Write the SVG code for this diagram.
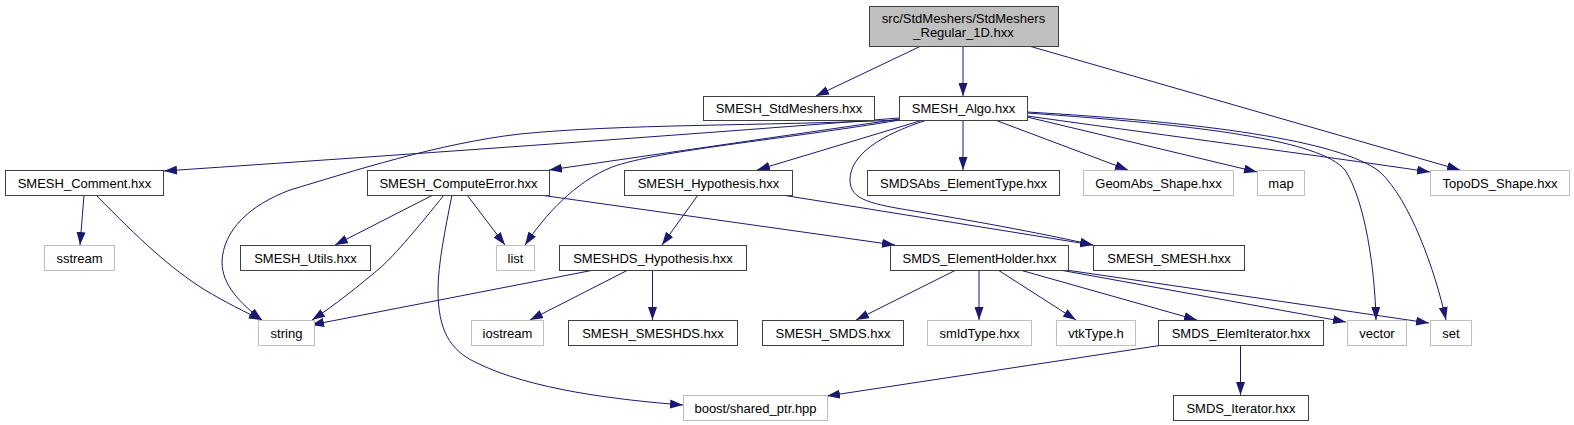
<svg xmlns="http://www.w3.org/2000/svg" width="1574" height="425" viewBox="0 0 1574 425">
<style>
.n rect{fill:#fff;stroke:#404040;stroke-width:1}
.g rect{fill:#fff;stroke:#bfbfbf;stroke-width:1}
.r rect{fill:#bfbfbf;stroke:#404040;stroke-width:1}
text{font-family:"Liberation Sans",Arial,sans-serif;font-size:13px;fill:#000;text-anchor:middle}
.e path{fill:none;stroke:#191970;stroke-width:1;marker-end:url(#ah)}
</style>
<defs>
<marker id="ah" markerWidth="13" markerHeight="9" refX="13" refY="4.5" orient="auto" markerUnits="userSpaceOnUse">
<path d="M0,0 L13,4.5 L0,9 z" fill="#191970" stroke="none"/>
</marker>
</defs>
<rect width="1574" height="425" fill="#fff"/>
<g id="edges" class="e">
<path d="M921,46 L816,96"/>
<path d="M963,46 L963,96"/>
<path d="M1029,46 L1460,170"/>
<path d="M899,118 Q620,140 164,171"/>
<path d="M900,120 C760,126 620,124 520,134 C440,143 350,172 290,190 C250,205 223,230 222,262 C222,285 240,303 262,320"/>
<path d="M900,119 L549,170"/>
<path d="M900,120 C780,140 660,150 612,167 C575,182 545,215 525,245"/>
<path d="M923,120 L757,170"/>
<path d="M927,120 C880,135 850,155 850,180 C850,200 870,204 920,212 C980,222 1050,235 1093,245"/>
<path d="M963,120 L963,170"/>
<path d="M995,120 L1128,170"/>
<path d="M1027,117 L1257,172"/>
<path d="M1027,116 C1200,140 1350,160 1430,172"/>
<path d="M1027,113 C1200,125 1320,140 1345,170 C1365,200 1375,270 1376,320"/>
<path d="M1027,112 C1200,122 1340,140 1380,172 C1410,200 1435,270 1446,320"/>
<path d="M84,195 L80,245"/>
<path d="M96,195 C140,240 170,268 205,290 C225,302 245,312 262,320"/>
<path d="M433,195 L335,245"/>
<path d="M444,195 C420,225 395,255 380,268 C360,285 335,305 312,320"/>
<path d="M452,195 C445,230 438,265 438,290 C438,330 450,350 475,362 C530,390 620,400 683,405"/>
<path d="M467,195 L505,245"/>
<path d="M540,195 L895,245"/>
<path d="M698,195 L662,245"/>
<path d="M782,195 L1093,245"/>
<path d="M594,270 L311,325"/>
<path d="M628,270 L530,320"/>
<path d="M652.5,270 L652.5,320"/>
<path d="M956,270 L856,320"/>
<path d="M979,270 L979,320"/>
<path d="M998,270 L1076,320"/>
<path d="M1020,270 L1197,320"/>
<path d="M1060,270 L1346,322"/>
<path d="M1066,270 L1429,323"/>
<path d="M1163,345 L827,396"/>
<path d="M1240.5,345 L1240.5,395"/>
</g>
<g id="root" class="r"><rect x="869.5" y="6.5" width="189" height="40"/><text x="963.5" y="22.5">src/StdMeshers/StdMeshers</text><text x="963.5" y="37">_Regular_1D.hxx</text></g>
<g id="std" class="n"><rect x="703.5" y="96.5" width="171" height="24"/><text x="789" y="113">SMESH_StdMeshers.hxx</text></g>
<g id="algo" class="n"><rect x="899.5" y="96.5" width="128" height="24"/><text x="963.5" y="113">SMESH_Algo.hxx</text></g>
<g id="comment" class="n"><rect x="5.5" y="170.5" width="158" height="25"/><text x="84.5" y="187.5">SMESH_Comment.hxx</text></g>
<g id="computeerror" class="n"><rect x="367.5" y="170.5" width="182" height="25"/><text x="458.5" y="187.5">SMESH_ComputeError.hxx</text></g>
<g id="hypothesis" class="n"><rect x="624.5" y="170.5" width="168" height="25"/><text x="708.5" y="187.5">SMESH_Hypothesis.hxx</text></g>
<g id="smdsabs" class="n"><rect x="867.5" y="170.5" width="192" height="25"/><text x="963.5" y="187.5">SMDSAbs_ElementType.hxx</text></g>
<g id="geomabs" class="g"><rect x="1083.5" y="170.5" width="150" height="25"/><text x="1158.5" y="187.5">GeomAbs_Shape.hxx</text></g>
<g id="map" class="g"><rect x="1257.5" y="170.5" width="47" height="25"/><text x="1281" y="187.5">map</text></g>
<g id="topods" class="g"><rect x="1430.5" y="170.5" width="139" height="25"/><text x="1500" y="187.5">TopoDS_Shape.hxx</text></g>
<g id="sstream" class="g"><rect x="44.5" y="245.5" width="70" height="25"/><text x="79.5" y="262.5">sstream</text></g>
<g id="utils" class="n"><rect x="240.5" y="245.5" width="130" height="25"/><text x="305.5" y="262.5">SMESH_Utils.hxx</text></g>
<g id="list" class="g"><rect x="496.5" y="245.5" width="38" height="25"/><text x="515.5" y="262.5">list</text></g>
<g id="smeshdshyp" class="n"><rect x="559.5" y="245.5" width="187" height="25"/><text x="653" y="262.5">SMESHDS_Hypothesis.hxx</text></g>
<g id="elemholder" class="n"><rect x="890.5" y="245.5" width="178" height="25"/><text x="979.5" y="262.5">SMDS_ElementHolder.hxx</text></g>
<g id="smesh_smesh" class="n"><rect x="1093.5" y="245.5" width="151" height="25"/><text x="1169" y="262.5">SMESH_SMESH.hxx</text></g>
<g id="string" class="g"><rect x="258.5" y="320.5" width="56" height="25"/><text x="286.5" y="337.5">string</text></g>
<g id="iostream" class="g"><rect x="471.5" y="320.5" width="72" height="25"/><text x="507.5" y="337.5">iostream</text></g>
<g id="smeshds" class="n"><rect x="568.5" y="320.5" width="169" height="25"/><text x="653" y="337.5">SMESH_SMESHDS.hxx</text></g>
<g id="smds" class="n"><rect x="762.5" y="320.5" width="141" height="25"/><text x="833" y="337.5">SMESH_SMDS.hxx</text></g>
<g id="smidtype" class="g"><rect x="927.5" y="320.5" width="104" height="25"/><text x="979.5" y="337.5">smIdType.hxx</text></g>
<g id="vtktype" class="g"><rect x="1056.5" y="320.5" width="79" height="25"/><text x="1096" y="337.5">vtkType.h</text></g>
<g id="elemiter" class="n"><rect x="1158.5" y="320.5" width="165" height="25"/><text x="1241" y="337.5">SMDS_ElemIterator.hxx</text></g>
<g id="vector" class="g"><rect x="1347.5" y="320.5" width="59" height="25"/><text x="1377" y="337.5">vector</text></g>
<g id="set" class="g"><rect x="1430.5" y="320.5" width="41" height="25"/><text x="1451" y="337.5">set</text></g>
<g id="boost" class="g"><rect x="683.5" y="395.5" width="144" height="25"/><text x="755.5" y="412.5">boost/shared_ptr.hpp</text></g>
<g id="iterator" class="n"><rect x="1173.5" y="395.5" width="135" height="25"/><text x="1241" y="412.5">SMDS_Iterator.hxx</text></g>
</svg>
